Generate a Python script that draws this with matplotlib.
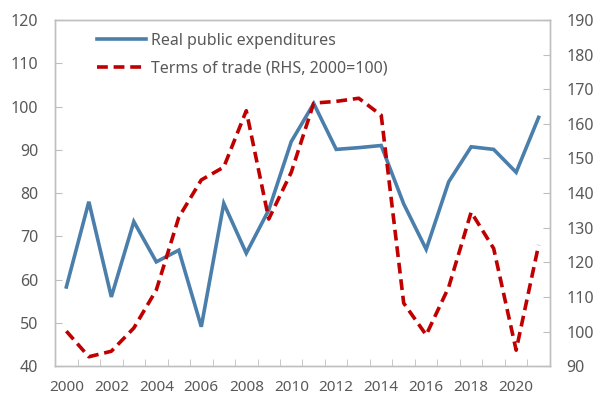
import numpy as np
import matplotlib
matplotlib.use("Agg")
import matplotlib.pyplot as plt

years = list(range(2000, 2022))
expenditures = [58.3, 78, 56, 73.4, 64.1, 66.8, 49.1, 77.6, 66.1, 76.1, 91.9,
                100.7, 90.1, 90.5, 91, 77.5, 67, 82.6, 90.7, 90.1, 84.8, 97.5]
terms_of_trade = [100.1, 92.7, 94.3, 101, 112, 133, 143.8, 147.5, 163.8, 132.5, 146,
                  166, 166.5, 167.4, 162.5, 108.2, 99, 112.8, 134.5, 124, 94.6, 125]
xlabels = [str(y) for y in years[::2]]

plt.rcParams['font.family'] = ['Noto Sans', 'DejaVu Sans']
tick_color = '#595959'
spine_color = '#BFBFBF'

fig = plt.figure(figsize=(5.99, 4.01), dpi=100)
ax = fig.add_axes([0.092, 0.087, 0.826, 0.863])
ax2 = ax.twinx()

x = np.arange(len(years))
l1, = ax.plot(x, expenditures, color='#4A7EAB', lw=2.6, solid_joinstyle='miter',
              label='Real public expenditures')
l2, = ax2.plot(x, terms_of_trade, color='#C00000', lw=2.6, ls=(0, (3.0, 1.6)),
               label='Terms of trade (RHS, 2000=100)')

ax.set_xlim(-0.5, len(years) - 0.5)
ax.set_ylim(40, 120)
ax.set_yticks(range(40, 121, 10))
ax2.set_ylim(90, 190)
ax2.set_yticks(range(90, 191, 10))

ax.set_xticks(x[::2])
ax.set_xticklabels(xlabels)
ax.set_xticks(np.arange(0.5, len(years) - 0.5, 1), minor=True)
ax.tick_params(axis='x', which='major', length=0, pad=10, labelsize=11, colors=tick_color)
ax.tick_params(axis='x', which='minor', direction='in', length=5, color=spine_color)
ax.tick_params(axis='y', direction='in', length=5, color=spine_color,
               labelsize=11.5, labelcolor=tick_color, pad=12)
ax2.tick_params(axis='y', direction='in', length=5, color=spine_color,
                labelsize=11.5, labelcolor=tick_color, pad=12)

for a in (ax, ax2):
    for s in a.spines.values():
        s.set_color(spine_color)
        s.set_linewidth(1.0)

leg = ax.legend(handles=[l1, l2], loc='upper left', bbox_to_anchor=(0.055, 1.005),
                frameon=False, fontsize=11.5, handlelength=3.1, handletextpad=0.3,
                labelspacing=0.75, labelcolor=tick_color)

fig.savefig('out.png', dpi=100)
